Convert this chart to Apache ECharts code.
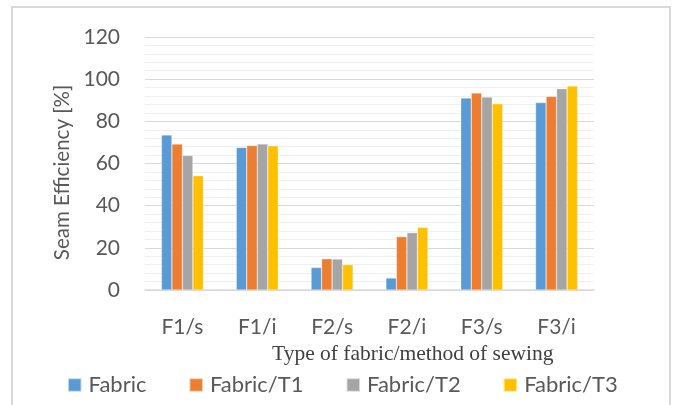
<!DOCTYPE html>
<html>
<head>
<meta charset="utf-8">
<script src="https://cdn.jsdelivr.net/npm/echarts@6/dist/echarts.min.js"></script>
<style>html,body{margin:0;padding:0;background:#fff;}#c{width:673px;height:405px;}</style>
</head>
<body>
<div id="c"></div>
<script>
const categories = ['F1/s', 'F1/i', 'F2/s', 'F2/i', 'F3/s', 'F3/i'];
const seriesNames = ['Fabric', 'Fabric/T1', 'Fabric/T2', 'Fabric/T3'];
const fabric   = [73.5, 67.6, 10.7, 5.7, 91.1, 88.9];
const fabricT1 = [69.2, 68.5, 14.8, 25.3, 93.4, 91.8];
const fabricT2 = [63.8, 69.3, 14.7, 27.2, 91.5, 95.5];
const fabricT3 = [54.2, 68.4, 12.0, 29.7, 88.3, 96.8];
const yTicks = [0, 20, 40, 60, 80, 100, 120];
const yTitle = 'Seam Efficiency [%]';
const xTitle = 'Type of fabric/method of sewing';

const colors = ['#5B9BD5', '#ED7D31', '#A5A5A5', '#FFC000'];
const values = [fabric, fabricT1, fabricT2, fabricT3];
const font = 'Lato';

const chart = echarts.init(document.getElementById('c'), null, {renderer: 'canvas'});
chart.setOption({
  animation: false,
  backgroundColor: '#fff',
  color: colors,
  grid: {left: 145, right: 79, top: 37, bottom: 115, containLabel: false},
  title: {
    text: xTitle,
    left: 267, top: 338,
    textStyle: {fontFamily: 'Liberation Serif', fontSize: 21.5, fontWeight: 'normal', color: '#404040'}
  },
  legend: {
    data: seriesNames,
    left: 67, top: 374, padding: 0,
    itemWidth: 13.5, itemHeight: 13.5, itemGap: 42,
    icon: 'rect',
    textStyle: {fontFamily: font, fontSize: 22, color: '#595959', padding: [0, 0, 0, 2]}
  },
  xAxis: {
    type: 'category',
    data: categories,
    axisLine: {lineStyle: {color: '#d9d9d9', width: 1.5}},
    axisTick: {show: false},
    axisLabel: {fontFamily: font, fontSize: 21, color: '#595959', margin: 27}
  },
  yAxis: {
    type: 'value',
    min: yTicks[0], max: yTicks[yTicks.length - 1], interval: 20,
    name: yTitle,
    nameLocation: 'middle',
    nameGap: 70,
    nameTextStyle: {fontFamily: font, fontSize: 20.5, color: '#595959', padding: [0, 18, 0, 0]},
    axisLine: {show: false},
    axisTick: {show: false},
    axisLabel: {fontFamily: font, fontSize: 21, color: '#595959', margin: 25},
    splitLine: {lineStyle: {color: '#d9d9d9', width: 1}},
    minorTick: {show: false, splitNumber: 5},
    minorSplitLine: {show: true, lineStyle: {color: '#efefef', width: 1}}
  },
  graphic: [{
    type: 'rect', silent: true, z: -1,
    shape: {x: 12, y: 7, width: 658, height: 420},
    style: {fill: 'none', stroke: '#d9d9d9', lineWidth: 2}
  }],
  series: seriesNames.map((n, i) => ({
    name: n, type: 'bar', data: values[i],
    barWidth: 10.5, barGap: '0%',
    itemStyle: {color: colors[i], borderColor: 'rgba(255,255,255,0.6)', borderWidth: 0.5}
  }))
});
</script>
</body>
</html>
